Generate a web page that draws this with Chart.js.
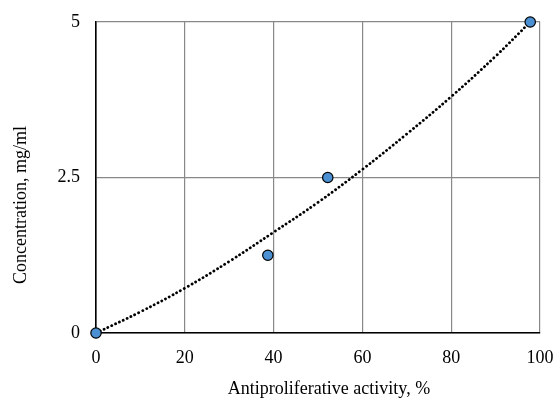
<!DOCTYPE html>
<html>
<head>
<meta charset="utf-8">
<script src="https://cdn.jsdelivr.net/npm/chart.js@4"></script>
<style>
  html, body { margin: 0; padding: 0; background: #fff; }
  #wrap { width: 554px; height: 398px; }
</style>
</head>
<body>
<div id="wrap"><canvas id="chart"></canvas></div>
<script>
// measured points
const activity = [0, 38.7, 52.2, 97.8]
const concentration = [0, 1.25, 2.5, 5]
// dotted trend line
const trendX = [0, 10, 20, 30, 40, 50, 60, 70, 80, 90, 97.8]
const trendY = [0, 0.34, 0.72, 1.15, 1.62, 2.1, 2.63, 3.2, 3.8, 4.45, 5]
const xTicks = [0, 20, 40, 60, 80, 100]
const yTicks = [0, 2.5, 5]
const xTitle = 'Antiproliferative activity, %'
const yTitle = 'Concentration, mg/ml'

const fontFamily = '"Liberation Serif", "Times New Roman", serif'
const font = { family: fontFamily, size: 18 }

// axis titles sit a bit off-centre in the original, so draw them by hand
const axisTitles = {
  id: 'axisTitles',
  afterDraw(chart) {
    const c = chart.ctx
    c.save()
    c.fillStyle = '#000'
    c.font = '18px ' + fontFamily
    c.textAlign = 'center'
    c.textBaseline = 'alphabetic'
    c.fillText(xTitle, 329, 394)
    c.translate(26, 205)
    c.rotate(-Math.PI / 2)
    c.fillText(yTitle, 0, 0)
    c.restore()
  }
}

const ctx = document.getElementById('chart')
new Chart(ctx, {
  type: 'scatter',
  data: {
    datasets: [{
      type: 'line',
      data: trendX.map((x, i) => ({ x: x, y: trendY[i] })),
      borderColor: '#000',
      borderWidth: 2.8,
      borderDash: [0.1, 4.2],
      borderCapStyle: 'round',
      pointRadius: 0,
      tension: 0.4,
      fill: false,
      order: 2
    }, {
      data: activity.map((x, i) => ({ x: x, y: concentration[i] })),
      backgroundColor: '#4a90d2',
      borderColor: '#000',
      borderWidth: 1.2,
      pointRadius: 5.2,
      clip: false,
      order: 1
    }]
  },
  options: {
    responsive: true,
    maintainAspectRatio: false,
    animation: false,
    layout: { padding: { top: 22, right: 14, left: 0, bottom: 0 } },
    plugins: { legend: { display: false }, tooltip: { enabled: false } },
    scales: {
      x: {
        type: 'linear',
        min: 0,
        max: 100,
        afterBuildTicks: (s) => { s.ticks = xTicks.map(v => ({ value: v })) },
        afterFit: (s) => { s.height = 65; s.paddingLeft = 0; s.paddingRight = 0 },
        ticks: { font: font, color: '#000', padding: 14, maxRotation: 0 },
        grid: { color: '#888', lineWidth: 1.2, drawTicks: false },
        border: { color: '#000', width: 1.6 }
      },
      y: {
        type: 'linear',
        min: 0,
        max: 5,
        afterBuildTicks: (s) => { s.ticks = yTicks.map(v => ({ value: v })) },
        afterFit: (s) => { s.width = 96; s.paddingTop = 0; s.paddingBottom = 0 },
        ticks: { font: font, color: '#000', padding: 16 },
        grid: { color: '#888', lineWidth: 1.2, drawTicks: false },
        border: { color: '#000', width: 1.6 }
      }
    }
  },
  plugins: [axisTitles]
})
</script>
</body>
</html>
